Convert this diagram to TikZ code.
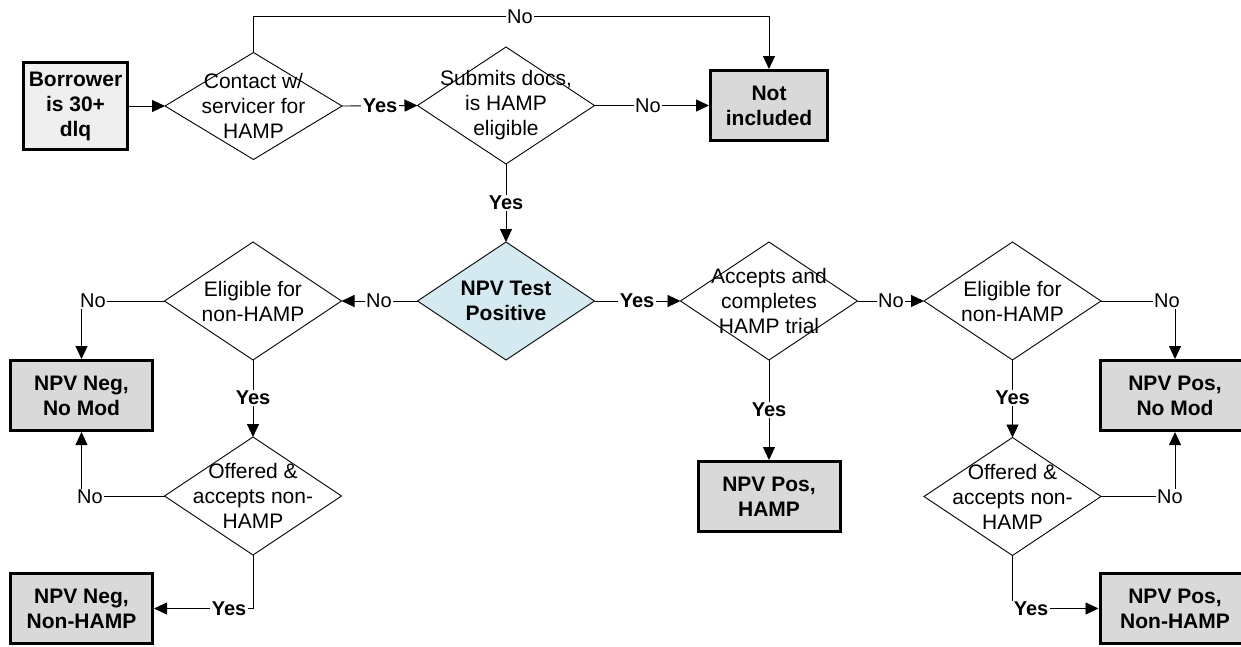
\documentclass[tikz,border=0pt]{standalone}
\usepackage{fontspec}
\setmainfont{Liberation Sans}
\usetikzlibrary{shapes.geometric,arrows.meta}
\definecolor{boxgray}{HTML}{D9D9D9}
\definecolor{startgray}{HTML}{EFEFEF}
\definecolor{npvblue}{HTML}{D5EAF0}
\begin{document}
\begin{tikzpicture}[x=1pt,y=-1pt,
  every node/.style={font=\fontsize{21}{25}\selectfont, align=center},
  resbox/.style={draw=black, line width=3pt, fill=boxgray, rectangle, minimum width=142pt, minimum height=70pt, inner sep=0pt, font=\fontsize{21}{25}\selectfont\bfseries},
  dia/.style={draw=black, line width=0.9pt, diamond, fill=white, minimum width=177pt, minimum height=118pt, inner sep=0pt, outer sep=0pt},
  dtext/.style={font=\fontsize{21}{25}\selectfont, align=center, inner sep=0pt},
  conn/.style={draw=black, line width=0.9pt},
  arr/.style={conn, -{Triangle[length=13pt,width=12pt]}},
  lab/.style={fill=white, inner xsep=1.5pt, inner ysep=1pt, font=\fontsize{20}{24}\selectfont},
  ylab/.style={lab, font=\fontsize{20}{24}\selectfont\bfseries},
]
\useasboundingbox (0,0) rectangle (1241,646);

% decision diamonds
\node[dia, minimum height=107pt] (contact) at (253.5,106) {};
\node[dia, minimum height=117pt] (submits) at (506,105.5) {};
\node[dia, fill=npvblue] (npv) at (506,301) {};
\node[dia] (eligL) at (253,301) {};
\node[dia] (offL) at (253,496) {};
\node[dia] (acc) at (769,301) {};
\node[dia] (eligR) at (1012.5,301) {};
\node[dia] (offR) at (1012.5,496.5) {};

\node[dtext] (contactT) at (contact.center) {Contact w/\\servicer for\\HAMP};
\node[dtext] (submitsT) at (submits.center) {Submits docs,\\is HAMP\\eligible};
\node[dtext, font=\fontsize{21}{25}\selectfont\bfseries] (npvT) at (npv.center) {NPV Test\\Positive};
\node[dtext] (eligLT) at (eligL.center) {Eligible for\\non-HAMP};
\node[dtext] (offLT) at (offL.center) {Offered \&\\accepts non-\\HAMP};
\node[dtext] (accT) at (acc.center) {Accepts and\\completes\\HAMP trial};
\node[dtext] (eligRT) at (eligR.center) {Eligible for\\non-HAMP};
\node[dtext] (offRT) at (offR.center) {Offered \&\\accepts non-\\HAMP};

% boxes
\node[resbox, fill=startgray, minimum width=104pt, minimum height=87pt] (borrower) at (75.5,106) {Borrower\\is 30+\\dlq};
\node[resbox, minimum width=117pt] (notinc) at (769,105.5) {Not\\included};
\node[resbox] (nnm) at (81.5,395.5) {NPV Neg,\\No Mod};
\node[resbox] (nnh) at (81.5,608.5) {NPV Neg,\\Non-HAMP};
\node[resbox] (nph) at (769,496.5) {NPV Pos,\\HAMP};
\node[resbox, minimum width=150pt] (npnm) at (1175,395.5) {NPV Pos,\\No Mod};
\node[resbox, minimum width=150pt] (npnh) at (1175,608.5) {NPV Pos,\\Non-HAMP};

% connectors
\draw[arr] (borrower.east) -- (contact.west);
\draw[arr] (contact.north) -- ++(0,-36) -| (notinc.north);
\draw[arr] (contact.east) -- (submits.west);
\draw[arr] (submits.east) -- (notinc.west);
\draw[arr] (submits.south) -- (npv.north);
\draw[arr] (npv.west) -- (eligL.east);
\draw[arr] (eligL.west) -| (nnm.north);
\draw[arr] (eligL.south) -- (offL.north);
\draw[arr] (offL.west) -| (nnm.south);
\draw[arr] (offL.south) |- (nnh.east);
\draw[arr] (npv.east) -- (acc.west);
\draw[arr] (acc.south) -- (nph.north);
\draw[arr] (acc.east) -- (eligR.west);
\draw[arr] (eligR.east) -| (npnm.north);
\draw[arr] (eligR.south) -- (offR.north);
\draw[arr] (offR.east) -| (npnm.south);
\draw[arr] (offR.south) |- (npnh.west);

% connector labels
\node[lab] (l1) at (520,16.5) {No};
\node[ylab] (l2) at (380,106) {Yes};
\node[lab] (l3) at (648,106) {No};
\node[ylab] (l4) at (506,203) {Yes};
\node[lab] (l5) at (379,301) {No};
\node[lab] (l6) at (93,301) {No};
\node[ylab] (l7) at (253,398) {Yes};
\node[lab] (l8) at (90,497) {No};
\node[ylab] (l9) at (229,608.5) {Yes};
\node[ylab] (l10) at (637,301) {Yes};
\node[ylab] (l11) at (769,410) {Yes};
\node[lab] (l12) at (891,301) {No};
\node[lab] (l13) at (1167,301) {No};
\node[ylab] (l14) at (1012.5,398) {Yes};
\node[lab] (l15) at (1170,497) {No};
\node[ylab] (l16) at (1031,608.5) {Yes};
\end{tikzpicture}
\end{document}
